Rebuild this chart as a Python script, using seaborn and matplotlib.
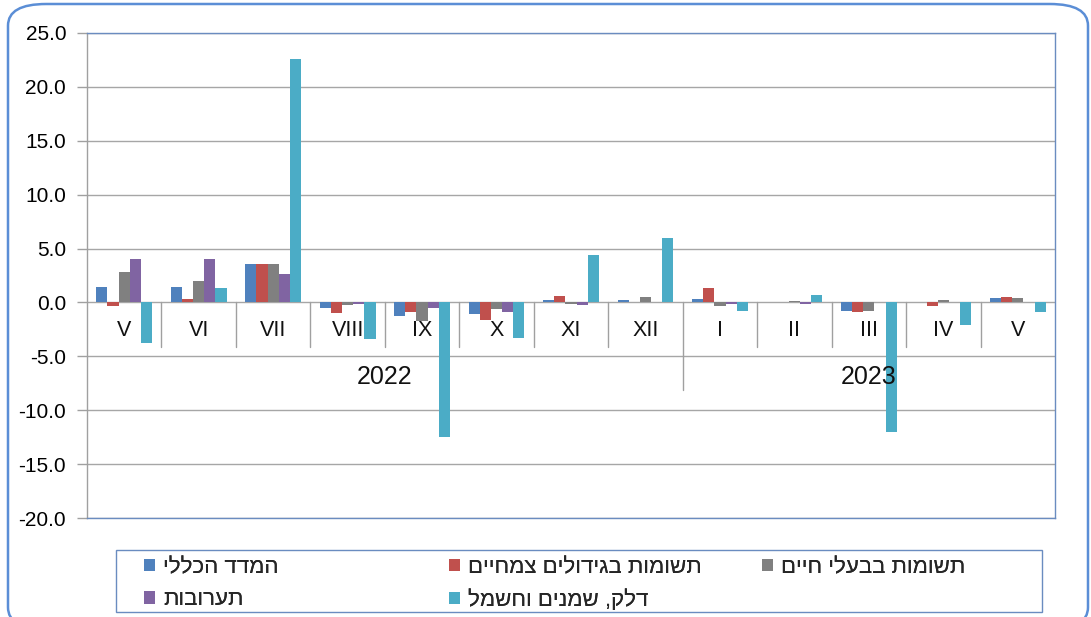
import numpy as np
import pandas as pd
import matplotlib
matplotlib.use("Agg")
import matplotlib.pyplot as plt
from matplotlib.patches import FancyBboxPatch, Patch, Rectangle
import seaborn as sns

# ---------------- data ----------------
months = ["V", "VI", "VII", "VIII", "IX", "X", "XI", "XII", "I", "II", "III", "IV", "V"]
years = ["2022"] * 8 + ["2023"] * 5
year_labels = ["2022", "2023"]

series = ["המדד הכללי", "תשומות בגידולים צמחיים", "תשומות בבעלי חיים",
          "תערובות", "דלק, שמנים וחשמל"]

general   = [1.4, 1.4, 3.6, -0.5, -1.3, -1.1, 0.2, 0.2, 0.3, 0.0, -0.8, 0.0, 0.4]
crops     = [-0.3, 0.3, 3.6, -1.0, -0.9, -1.6, 0.6, 0.0, 1.3, 0.0, -0.9, -0.3, 0.5]
livestock = [2.8, 2.0, 3.6, -0.25, -1.7, -0.6, -0.1, 0.5, -0.3, 0.1, -0.8, 0.2, 0.4]
feed      = [4.0, 4.0, 2.6, -0.1, -0.5, -0.9, -0.2, 0.0, -0.1, -0.1, 0.0, 0.0, 0.0]
fuel      = [-3.8, 1.3, 22.6, -3.4, -12.5, -3.3, 4.4, 6.0, -0.8, 0.7, -12.0, -2.1, -0.9]

colors = ["#4F81BD", "#C0504D", "#808080", "#8064A2", "#4BACC6"]
yticks = [-20, -15, -10, -5, 0, 5, 10, 15, 20, 25]

# ---------------- build frame ----------------
positions = [f"{y}-{m}-{i}" for i, (y, m) in enumerate(zip(years, months))]
rows = []
for name, vals in zip(series, [general, crops, livestock, feed, fuel]):
    for p, v in zip(positions, vals):
        rows.append({"pos": p, "series": name, "value": v})
df = pd.DataFrame(rows)

def vis(s):
    # matplotlib renders left-to-right; reverse Hebrew for visual order
    return s[::-1]

sns.set_theme(style="white")
plt.rcParams["font.family"] = ["Liberation Sans", "DejaVu Sans"]

W, H = 1091, 617
fig = plt.figure(figsize=(W / 100, H / 100), dpi=100)
fig.patch.set_facecolor("white")

# outer rounded border (bottom runs off the image)
border = FancyBboxPatch((8 / W, -12 / H), (1088 - 8) / W, (12 + 613) / H,
                        boxstyle="round,pad=0,rounding_size=0.035",
                        transform=fig.transFigure, fill=False,
                        edgecolor="#5B8ED6", linewidth=1.8, zorder=0)
fig.patches.append(border)

ax = fig.add_axes([87 / W, 1 - 518 / H, (1055 - 87) / W, (518 - 33) / H])

sns.barplot(data=df, x="pos", y="value", hue="series", hue_order=series,
            order=positions, palette=colors, width=0.75, gap=0,
            saturation=1, ax=ax, legend=False, linewidth=0, errorbar=None)

ax.set_ylim(-20, 25)
ax.set_xlim(-0.5, len(positions) - 0.5)
ax.set_yticks(yticks)
ax.set_yticklabels([f"{t:.1f}" for t in yticks], fontsize=15, color="#000000")
ax.set_xticks([])
ax.set_xlabel("")
ax.set_ylabel("")
ax.tick_params(axis="y", length=7, width=1, color="#A0A0A0", pad=8, left=True)

grid_c = "#A6A6A6"
ax.yaxis.grid(True, color=grid_c, linewidth=1.0)
ax.set_axisbelow(True)

for side in ["top", "right", "bottom"]:
    ax.spines[side].set_color("#6A8CC0")
    ax.spines[side].set_linewidth(1.0)
ax.spines["left"].set_color("#A0A0A0")
ax.spines["left"].set_linewidth(1.0)

# category labels and separators (multi-level axis)
n = len(positions)
for i, m in enumerate(months):
    ax.text(i, -2.6, m, ha="center", va="center", fontsize=15.5, color="#111111")
for i in range(1, n):
    is_year_break = years[i] != years[i - 1]
    ax.plot([i - 0.5, i - 0.5], [0, -8.1 if is_year_break else -4.1],
            color="#A0A0A0", linewidth=1.0, zorder=1)
for yl in year_labels:
    idx = [i for i, y in enumerate(years) if y == yl]
    ax.text((idx[0] + idx[-1]) / 2, -6.9, yl, ha="center", va="center",
            fontsize=18, color="#111111")

# legend frame
fig.patches.append(Rectangle((116 / W, 1 - 612 / H), (1042 - 116) / W, (612 - 550) / H,
                             transform=fig.transFigure, fill=False,
                             edgecolor="#6A8CC0", linewidth=1.0))

handles = [Patch(facecolor=c, edgecolor="none") for c in colors]
columns = [([0, 3], 144), ([1, 4], 449), ([2], 762)]
for idxs, xpx in columns:
    lg = fig.legend([handles[i] for i in idxs], [vis(series[i]) for i in idxs],
                    loc="upper left", bbox_to_anchor=(xpx / W, 1 - 557 / H),
                    frameon=False, fontsize=16, handlelength=0.5,
                    handleheight=0.5, handletextpad=0.35, borderpad=0,
                    labelspacing=0.5, borderaxespad=0)
    fig.add_artist(lg)

fig.savefig("out.png", dpi=100)
